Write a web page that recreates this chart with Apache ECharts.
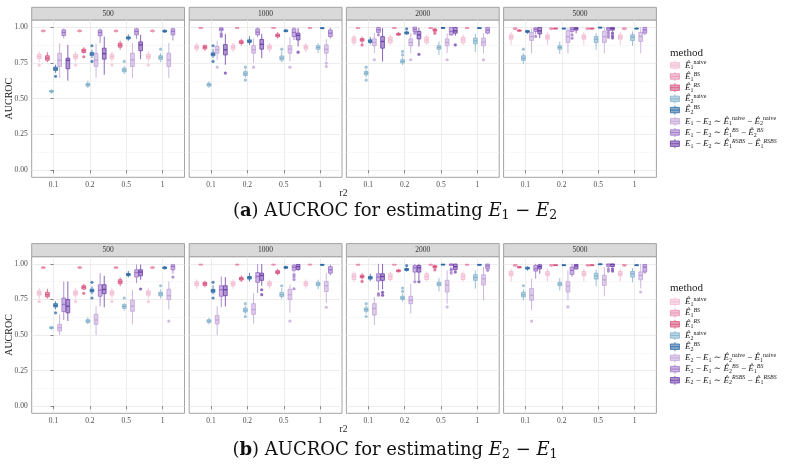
<!DOCTYPE html>
<html><head><meta charset="utf-8">
<script src="https://cdn.jsdelivr.net/npm/echarts@6/dist/echarts.min.js"></script>
<style>html,body{margin:0;padding:0;background:#fff}#c{width:790px;height:471px}</style>
</head><body><div id="c"></div><script>
// ---------- data ----------
const facets = ['500', '1000', '2000', '5000'];
const r2Labels = ['0.1', '0.2', '0.5', '1'];
const yTicks = [0, 0.25, 0.5, 0.75, 1];
const yMinor = [0.125, 0.375, 0.625, 0.875];
// each box: [lower whisker, q1, median, q3, upper whisker, ...outliers]; one entry per r2
// estimates shared by both panels: E1 naive, E1 BS, E1 RS, E2 naive, E2 BS
const est500 = [
  [[.755,.78,.795,.81,.83,.735],[.755,.78,.795,.81,.83,.735],[.755,.78,.795,.81,.83,.735],[.755,.78,.795,.81,.83,.735]],
  [[.962,.969,.974,.978,.985],[.962,.969,.974,.978,.985],[.962,.969,.974,.978,.985],[.962,.969,.974,.978,.985]],
  [[.756,.768,.783,.80,.825],[.815,.823,.835,.846,.86,.793],[.842,.86,.874,.888,.905],null],
  [[.535,.545,.551,.557,.565],[.575,.588,.598,.607,.626],[.672,.688,.70,.713,.728,.76],[.756,.775,.788,.80,.82,.846]],
  [[.68,.697,.708,.72,.737,.656],[.785,.803,.812,.822,.842,.87,.76],[.905,.917,.925,.932,.95],[.96,.966,.972,.978,.985]]
];
const est1000 = [
  [[.825,.846,.86,.874,.89],[.825,.846,.86,.874,.89],[.825,.846,.86,.874,.89],[.825,.846,.86,.874,.89]],
  [[.99,.993,.995,.997,.999],[.99,.993,.995,.997,.999],[.99,.993,.995,.997,.999],[.99,.993,.995,.997,.999]],
  [[.835,.848,.86,.87,.88],[.872,.886,.895,.905,.918],[.92,.932,.942,.952,.965],null],
  [[.575,.588,.598,.607,.622],[.645,.662,.674,.688,.705,.72,.63],[.754,.77,.783,.798,.83,.846],[.82,.846,.858,.87,.888]],
  [[.785,.80,.81,.82,.848,.87,.76],[.876,.893,.902,.911,.937],[.963,.969,.974,.98,.988],[.985,.99,.993,.996,.999]]
];
const est2000 = [
  [[.876,.89,.911,.93,.946],[.876,.89,.911,.93,.946],[.876,.89,.911,.93,.946],[.876,.89,.911,.93,.946]],
  [[.988,.991,.994,.997,.999],[.988,.991,.994,.997,.999],[.988,.991,.994,.997,.999],[.988,.991,.994,.997,.999]],
  [[.89,.902,.911,.92,.934,.876],[.94,.944,.951,.957,.965],[.965,.972,.98,.987,.995,.958],null],
  [[.65,.667,.679,.69,.705,.72,.63],[.735,.75,.76,.772,.79,.806,.83],[.806,.846,.858,.87,.9],[.825,.884,.904,.923,.953]],
  [[.88,.893,.902,.911,.93],[.945,.953,.96,.967,.975,.988],[.99,.993,.995,.997,.999],[.988,.991,.993,.996,.999]]
];
const est5000 = [
  [[.876,.916,.93,.946,.965],[.876,.916,.93,.946,.965],[.876,.916,.93,.946,.965],[.876,.916,.93,.946,.965]],
  [[.978,.985,.99,.995,.999],[.978,.985,.99,.995,.999],[.978,.985,.99,.995,.999],[.978,.985,.99,.995,.999]],
  [[.968,.972,.976,.98,.985],[.985,.988,.99,.993,.996],[.985,.988,.99,.993,.996],null],
  [[.742,.768,.783,.80,.82,.846],[.813,.846,.858,.87,.9],[.842,.893,.916,.934,.958],[.87,.907,.93,.946,.97]],
  [[.953,.963,.97,.976,.981],[.985,.988,.99,.993,.996],[.993,.996,.998,.999,1],[.985,.988,.99,.993,.996]]
];
// panel (a): E1 - E2 naive, BS, RSBS
const diffA500 = [
  [[.645,.725,.768,.818,.888],[.645,.725,.77,.818,.885],[.645,.725,.772,.818,.89],[.645,.725,.77,.818,.89]],
  [[.923,.942,.963,.981,.99],[.888,.94,.963,.98,.99],[.918,.946,.97,.988,.995],[.907,.946,.97,.988,.995]],
  [[.626,.709,.768,.783,.876],[.667,.776,.815,.853,.934],[.776,.835,.876,.897,.946],null]
];
const diffA1000 = [
  [[.77,.818,.842,.865,.905,.72],[.75,.818,.842,.87,.92,.72],[.76,.818,.846,.87,.93,.72],[.765,.818,.846,.876,.916,.749,.725]],
  [[.965,.975,.985,.995,1,.955,.945,.935],[.93,.946,.965,.988,.999],[.91,.934,.963,.988,1],[.92,.934,.958,.98,.995]],
  [[.737,.806,.842,.878,.953,.679],[.783,.846,.88,.914,.953],[.865,.911,.942,.958,.993,.825],null]
];
const diffA2000 = [
  [[.818,.87,.893,.918,.958,.772],[.818,.87,.893,.918,.958,.772],[.818,.87,.893,.918,.958,.772],[.818,.87,.895,.923,.958,.772]],
  [[.955,.963,.981,.998,1,.946],[.965,.97,.985,1,1,.958],[.94,.946,.97,.998,1],[.95,.958,.98,.998,1]],
  [[.76,.853,.9,.934,.993],[.865,.918,.946,.97,.995,.81],[.94,.958,.974,.998,1,.876],null]
];
const diffA5000 = [
  [[.818,.907,.934,.963,.99],[.818,.893,.934,.976,.995],[.818,.893,.934,.97,1],[.818,.9,.934,.963,1]],
  [[.95,.97,.985,.995,1,.935],[.96,.97,.985,.998,1,.946,.923],[.97,.976,.99,.998,1,.963,.946,.93],[.945,.958,.98,.998,1]],
  [[.923,.953,.974,.998,1],[.958,.98,.99,.998,1],[.97,.98,.99,.998,1,.958,.94,.925],null]
];
// panel (b): E2 - E1 naive, BS, RSBS
const diffB500 = [
  [[.50,.528,.551,.575,.645],[.50,.575,.605,.645,.702],[.575,.667,.702,.745,.818],[.679,.749,.776,.821,.876,.598]],
  [[.605,.665,.715,.76,.876],[.702,.772,.815,.853,.934],[.865,.907,.939,.958,.995],[.93,.958,.981,.993,1,.907]],
  [[.598,.656,.702,.749,.876],[.695,.79,.82,.853,.916],[.888,.916,.942,.958,.995,.823],null]
];
const diffB1000 = [
  [[.50,.578,.605,.638,.702],[.58,.645,.679,.72,.795],[.656,.749,.783,.821,.853,.598],[.725,.806,.846,.876,.934,.695]],
  [[.695,.772,.818,.846,.911],[.795,.87,.911,.939,.998],[.94,.955,.975,.99,1,.925,.91,.89,.825],[.92,.934,.958,.98,.995]],
  [[.70,.776,.818,.846,.907],[.846,.884,.918,.934,.998,.818,.783],[.95,.96,.98,.995,1],null]
];
const diffB2000 = [
  [[.57,.64,.686,.72,.767],[.651,.72,.744,.772,.86],[.72,.802,.851,.884,.954,.697],[.744,.851,.895,.923,.977]],
  [[.814,.879,.907,.93,1,.79,.78],[.884,.942,.972,.988,1,.874],[.985,.988,.995,.999,1,.965,.954,.935],[.96,.965,.985,.998,1,.954]],
  [[.82,.884,.911,.93,1,.80,.78],[.884,.942,.972,.988,1,.874],[.955,.958,.98,.998,1,.942],null]
];
const diffB5000 = [
  [[.674,.744,.779,.826,.895,.598],[.744,.802,.844,.874,.954,.697],[.772,.849,.888,.919,.977],[.826,.888,.919,.942,1,.802]],
  [[.895,.949,.965,.988,1],[.91,.926,.954,.977,1],[.978,.981,.995,.999,1,.965,.949],[.93,.942,.977,.995,1]],
  [[.93,.965,.98,.993,1],[.958,.965,.985,.995,1],[.978,.981,.995,.999,1,.965,.949],null]
];
const namesA = ['E1naive','E1BS','E1RS','E2naive','E2BS','A_naive','A_BS','A_RSBS'];
const namesB = ['E1naive','E1BS','E1RS','E2naive','E2BS','B_naive','B_BS','B_RSBS'];

// ---------- style ----------
const FONT = '"Liberation Serif","DejaVu Serif",serif';
const CAPFONT = '"DejaVu Serif","Liberation Serif",serif';
const colors = ['#f2b9d1','#e98fb0','#d9507c','#80b1cc','#2a68a6','#c2a3d9','#9c73c8','#6c3ea7'];
function rgba(hex, a){const n=parseInt(hex.slice(1),16);return `rgba(${n>>16},${(n>>8)&255},${n&255},${a})`;}
const fills = colors.map(c => rgba(c, 0.55));
const SLOT = 0.1125, BOXW = 0.102, LW = 0.8;
const lefts = [31.7, 189.2, 346.4, 503.6], W = 152.8;

const hat = (i, sup, it) => `{e|Ê}{sb|${i}}{${it ? 'spi' : 'sp'}|${sup}}`;
const EE = (a, b) => `{e|E}{sb|${a}}{t| − }{e|E}{sb|${b}}{t| ∼ }`;
const LABELS = {
  E1naive: hat(1,'naive',false), E1BS: hat(1,'BS',true), E1RS: hat(1,'RS',true),
  E2naive: hat(2,'naive',false), E2BS: hat(2,'BS',true),
  A_naive: EE(1,2) + hat(1,'naive') + '{t| − }' + hat(2,'naive'),
  A_BS: EE(1,2) + hat(1,'BS',true) + '{t| − }' + hat(2,'BS',true),
  A_RSBS: EE(1,2) + hat(1,'RSBS',true) + '{t| − }' + hat(1,'RSBS',true),
  B_naive: EE(2,1) + hat(2,'naive') + '{t| − }' + hat(1,'naive'),
  B_BS: EE(2,1) + hat(2,'BS',true) + '{t| − }' + hat(1,'BS',true),
  B_RSBS: EE(2,1) + hat(2,'RSBS',true) + '{t| − }' + hat(1,'RSBS',true)
};
const legRich = {
  e: {fontFamily: FONT, fontStyle: 'italic', fontSize: 9, lineHeight: 11, color: '#1a1a1a'},
  t: {fontFamily: FONT, fontSize: 9, lineHeight: 11, color: '#1a1a1a'},
  sb: {fontFamily: FONT, fontSize: 6, lineHeight: 4, verticalAlign: 'bottom', color: '#1a1a1a'},
  sp: {fontFamily: FONT, fontSize: 6, lineHeight: 4, verticalAlign: 'top', color: '#1a1a1a'},
  spi: {fontFamily: FONT, fontSize: 6, lineHeight: 4, verticalAlign: 'top', fontStyle: 'italic', color: '#1a1a1a'}
};
const ICON = 'path://M5,0V2M0,2H10V8H0ZM0,5H10M5,8V10';

const panels = [
  {names: namesA, sets: [est500.concat(diffA500), est1000.concat(diffA1000), est2000.concat(diffA2000), est5000.concat(diffA5000)], top: 20, h: 157.3, stripTop: 7.3, legTop: 59.8, legTitle: 52.7, r2y: 193, cap: 'a', capTop: 200, capE: [1, 2]},
  {names: namesB, sets: [est500.concat(diffB500), est1000.concat(diffB1000), est2000.concat(diffB2000), est5000.concat(diffB5000)], top: 256.7, h: 156.6, stripTop: 243.6, legTop: 296.4, legTitle: 288, r2y: 429, cap: 'b', capTop: 439, capE: [2, 1]}
];

function makeRender(m, outl) {
  return function (params, api) {
    const cx = api.value(0) + (m - 3.5) * SLOT;
    const P = k => api.coord([cx, api.value(k)]);
    const lo = P(1), q1 = P(2), md = P(3), q3 = P(4), hi = P(5);
    const hw = api.size([BOXW, 0])[0] / 2;
    const x = lo[0];
    const st = {stroke: colors[m], lineWidth: LW, fill: null};
    const ch = [
      {type: 'line', shape: {x1: x, y1: hi[1], x2: x, y2: q3[1]}, style: st},
      {type: 'line', shape: {x1: x, y1: q1[1], x2: x, y2: lo[1]}, style: st},
      {type: 'rect', shape: {x: x - hw, y: q3[1], width: 2 * hw, height: Math.max(q1[1] - q3[1], 0.8)}, style: {fill: fills[m], stroke: colors[m], lineWidth: LW}},
      {type: 'line', shape: {x1: x - hw, y1: md[1], x2: x + hw, y2: md[1]}, style: {stroke: colors[m], lineWidth: 1.3}}
    ];
    outl[params.dataIndex].forEach(v => {
      const p = api.coord([cx, v]);
      ch.push({type: 'circle', shape: {cx: p[0], cy: p[1], r: 1.6}, style: {fill: rgba(colors[m], 0.75), stroke: null}});
    });
    return {type: 'group', children: ch};
  };
}

const grids = [], xAxes = [], yAxes = [], series = [], graphics = [], legends = [], titles = [];
const axText = {fontFamily: FONT, fontSize: 7.5, color: '#4d4d4d'};
panels.forEach((p, pi) => {
  facets.forEach((f, fi) => {
    const gi = grids.length;
    grids.push({left: lefts[fi], top: p.top, width: W, height: p.h, show: true, borderColor: '#a3a3a3', borderWidth: 1, backgroundColor: '#fff'});
    xAxes.push({gridIndex: gi, type: 'value', min: -0.6, max: 3.6,
      axisLine: {show: false},
      axisTick: {show: true, customValues: [0, 1, 2, 3], length: 3, lineStyle: {color: '#555', width: 0.7}},
      axisLabel: Object.assign({customValues: [0, 1, 2, 3], formatter: v => r2Labels[v], margin: 4}, axText),
      splitLine: {show: true, lineStyle: {color: '#e8e8e8', width: 0.8}}});
    yAxes.push({gridIndex: gi, type: 'value', min: -0.05, max: 1.05,
      axisLine: {show: false},
      axisTick: {show: fi === 0, customValues: yTicks, length: 3, lineStyle: {color: '#555', width: 0.7}},
      axisLabel: Object.assign({show: fi === 0, customValues: yTicks, formatter: v => v.toFixed(2), margin: 4}, axText),
      splitLine: {show: true, lineStyle: {color: '#e8e8e8', width: 0.8}}});
    yAxes.push({gridIndex: gi, type: 'value', min: -0.05, max: 1.05, position: 'left',
      axisLine: {show: false}, axisTick: {show: false, customValues: yMinor}, axisLabel: {show: false, customValues: yMinor},
      splitLine: {show: true, lineStyle: {color: '#f4f4f4', width: 0.6}}});
    p.sets[fi].forEach((rows, m) => {
      const data = [], outl = [];
      rows.forEach((b, ci) => { if (b) { data.push([ci, b[0], b[1], b[2], b[3], b[4]]); outl.push(b.slice(5)); } });
      series.push({type: 'custom', name: p.names[m], xAxisIndex: gi, yAxisIndex: 2 * gi, data,
        encode: {x: 0, y: [1, 2, 3, 4, 5]}, renderItem: makeRender(m, outl),
        itemStyle: {color: colors[m]}, silent: true, z: 3});
    });
    graphics.push({type: 'rect', shape: {x: lefts[fi], y: p.stripTop, width: W, height: p.top - p.stripTop},
      style: {fill: '#d9d9d9', stroke: '#a3a3a3', lineWidth: 1}, silent: true});
    graphics.push({type: 'text', x: lefts[fi] + W / 2, y: (p.stripTop + p.top) / 2,
      style: {text: f, align: 'center', verticalAlign: 'middle', font: '7.5px ' + FONT, fill: '#333'}, silent: true});
  });
  graphics.push({type: 'text', x: 9, y: p.top + p.h / 2, rotation: Math.PI / 2,
    style: {text: 'AUCROC', align: 'center', verticalAlign: 'middle', font: '10px ' + FONT, fill: '#1a1a1a'}, silent: true});
  graphics.push({type: 'text', x: 343.5, y: p.r2y,
    style: {text: 'r2', align: 'center', verticalAlign: 'middle', font: '9.5px ' + FONT, fill: '#1a1a1a'}, silent: true});
  graphics.push({type: 'text', x: 670, y: p.legTitle,
    style: {text: 'method', align: 'left', verticalAlign: 'middle', font: '11px ' + FONT, fill: '#1a1a1a'}, silent: true});
  legends.push({orient: 'vertical', left: 670, top: p.legTop, padding: 0, itemWidth: 10, itemHeight: 9, itemGap: 0.2,
    selectedMode: false,
    data: p.names.map((n, m) => ({name: n, icon: ICON, itemStyle: {color: fills[m], borderColor: colors[m], borderWidth: 0.8}})),
    formatter: n => LABELS[n],
    textStyle: {fontFamily: FONT, fontSize: 9, color: '#1a1a1a', rich: legRich}});
  titles.push({left: 'center', top: p.capTop, padding: 0,
    text: `{n|(}{b|${p.cap}}{n|) AUCROC for estimating }{i|E}{s|${p.capE[0]}}{n| − }{i|E}{s|${p.capE[1]}}`,
    textStyle: {fontWeight: 'normal', rich: {
      n: {fontFamily: CAPFONT, fontSize: 18, lineHeight: 22, fontWeight: 'normal', color: '#111'},
      b: {fontFamily: CAPFONT, fontSize: 18, lineHeight: 22, fontWeight: 'bold', color: '#111'},
      i: {fontFamily: CAPFONT, fontSize: 18, lineHeight: 22, fontWeight: 'normal', fontStyle: 'italic', color: '#111'},
      s: {fontFamily: CAPFONT, fontSize: 12.5, lineHeight: 12, fontWeight: 'normal', verticalAlign: 'bottom', color: '#111'}
    }}});
});

const chart = echarts.init(document.getElementById('c'), null, {renderer: 'canvas'});
chart.setOption({
  animation: false, backgroundColor: '#fff',
  title: titles, legend: legends, grid: grids, xAxis: xAxes, yAxis: yAxes, series, graphic: graphics
});
</script></body></html>
